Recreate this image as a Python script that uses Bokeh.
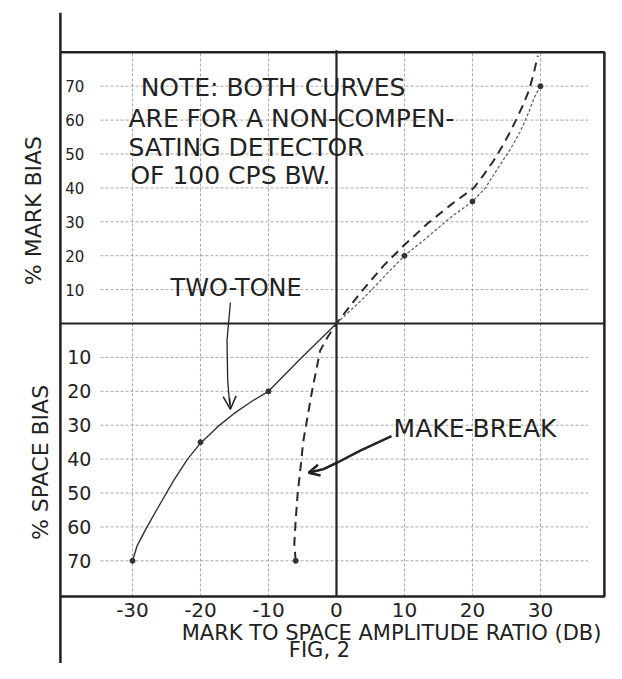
from math import pi
from bokeh.plotting import figure
from bokeh.models import Range1d, Arrow, OpenHead
from bokeh.core.properties import value
from bokeh.embed import file_html
from bokeh.resources import INLINE

# ---------------- data ----------------
x_ticks = [-30, -20, -10, 0, 10, 20, 30]
x_tick_labels = ["-30", "-20", "-10", "0", "10", "20", "30"]
bias_ticks = [10, 20, 30, 40, 50, 60, 70]

# TWO-TONE curve (dB, % bias: mark positive, space negative)
tt_x = [-30, -29.3, -28, -26.3, -24, -21.9, -20, -17.5, -15.1, -12.5, -10, -5.3, 0,
        4, 6.9, 10, 12.8, 16.8, 20, 21.9, 23.8, 25.6, 27, 28.2, 29.1, 30]
tt_y = [-70, -65.5, -60.5, -54.5, -46.5, -40, -35.3, -30.5, -26.6, -23, -20, -10.4, 0,
        7.5, 13.6, 20, 24.5, 31.3, 36, 40, 46, 51.5, 56.5, 62, 66.7, 70]
tt_mark_x = [-30, -20, -10, 10, 20, 30]
tt_mark_y = [-70, -35, -20, 20, 36, 70]

# MAKE-BREAK curve
mb_x = [-6, -6.2, -6, -5.7, -5.2, -4.9, -4.3, -3.6, -2.9, -2.4, -1.3, 0,
        3.5, 6.9, 9.9, 13.4, 16.8, 20.2, 21.7, 23.1, 24.3, 25.4, 26.4, 27.4, 28.3, 29, 29.6]
mb_y = [-70, -65, -58, -50, -41, -35, -28, -20, -13, -8, -4, 0,
        9, 17, 23, 29.5, 35, 40, 44, 48, 52, 56, 60, 64.3, 68.7, 73.7, 79]
mb_end_x = [-6]
mb_end_y = [-70]

note_lines = ["NOTE: BOTH CURVES", "ARE FOR A NON-COMPEN-",
              "SATING DETECTOR", "OF 100 CPS BW."]

# ---------------- layout constants ----------------
X0, X1 = -40.6, 39.4     # frame
Y0, Y1 = -80.5, 80.0
INK = "#222222"
GRID = "#8a8a8a"
FONT = value("DejaVu Sans")

p = figure(width=606, height=663,
           x_range=Range1d(-49.41, 39.71), y_range=Range1d(-100.29, 95.28),
           output_backend="svg", toolbar_location=None, min_border=0,
           x_axis_location=None, y_axis_location=None)
p.outline_line_color = None
p.xgrid.visible = False
p.ygrid.visible = False
p.background_fill_color = "white"

# grid (hand-ruled faint dashes)
gx = [[t, t] for t in x_ticks if t != 0]
gy = [[Y0, Y1] for t in x_ticks if t != 0]
p.multi_line(gx, gy, line_color=GRID, line_width=1, line_dash="3 2", line_alpha=0.75)
hx, hy = [], []
for b in bias_ticks:
    for s in (1, -1):
        hx.append([-34.7, 37.0])
        hy.append([s * b, s * b])
p.multi_line(hx, hy, line_color=GRID, line_width=1, line_dash="3 2", line_alpha=0.75)

# frame and zero axes
p.line([X0, X0], [91.7, -100.3], line_color=INK, line_width=2.5)
p.line([X0, X1, X1, X0], [Y1, Y1, Y0, Y0], line_color=INK, line_width=2.5)
p.line([X0, X1], [0, 0], line_color=INK, line_width=2.2)
p.line([0, 0], [Y1 + 0.6, Y0], line_color=INK, line_width=2.2)

# curves
p.line(tt_x[:13], tt_y[:13], line_color="#333333", line_width=1.4)
p.line(tt_x[12:], tt_y[12:], line_color="#666666", line_width=1.3, line_dash="3 2")
p.scatter(tt_mark_x, tt_mark_y, size=5, color="#333333")
p.line(mb_x, mb_y, line_color="#2a2a2a", line_width=2, line_dash="9 6")
p.scatter(mb_end_x, mb_end_y, size=5, color="#333333")

# y tick labels (inside frame)
p.text(x=[-39.9] * 7, y=bias_ticks, text=[str(b) for b in bias_ticks],
       text_font=FONT, text_font_size="15px", text_align="left",
       text_baseline="middle", text_color=INK)
p.text(x=[-39.6] * 7, y=[-b for b in bias_ticks], text=[str(b) for b in bias_ticks],
       text_font=FONT, text_font_size="19px", text_align="left",
       text_baseline="middle", text_color=INK)

# x tick labels
p.text(x=x_ticks, y=[-84.5] * 7, text=x_tick_labels,
       text_font=FONT, text_font_size="20px", text_align="center",
       text_baseline="middle", text_color=INK)

# axis titles
p.text(x=[8.1], y=[-91.3], text=["MARK TO SPACE AMPLITUDE RATIO (DB)"],
       text_font=FONT, text_font_size="21px", text_align="center",
       text_baseline="middle", text_color=INK)
p.text(x=[-2.5], y=[-96.2], text=["FIG, 2"],
       text_font=FONT, text_font_size="21px", text_align="center",
       text_baseline="middle", text_color=INK)
p.text(x=[-44.6], y=[33.3], text=["% MARK BIAS"], angle=pi / 2,
       text_font=FONT, text_font_size="22px", text_align="center",
       text_baseline="middle", text_color=INK)
p.text(x=[-43.6], y=[-41], text=["% SPACE BIAS"], angle=pi / 2,
       text_font=FONT, text_font_size="22px", text_align="center",
       text_baseline="middle", text_color=INK)

# note
p.text(x=[-28.8, -30.6, -30.6, -30.3], y=[69.6, 60.5, 51.9, 43.7], text=note_lines,
       text_font=FONT, text_font_size="25px", text_align="left",
       text_baseline="middle", text_color=INK)

# TWO-TONE label + arrow
p.text(x=[-24.4], y=[10.6], text=["TWO-TONE"], text_font=FONT,
       text_font_size="24px", text_align="left", text_baseline="middle", text_color=INK)
p.line([-15.6, -16.1, -16.0, -15.7], [6.2, -5.0, -16.8, -24.0],
       line_color=INK, line_width=1.3)
p.add_layout(Arrow(end=OpenHead(size=13, line_color=INK, line_width=1.5),
                   x_start=-15.7, y_start=-22.0, x_end=-15.6, y_end=-25.3,
                   line_color=INK, line_width=1.3))

# MAKE-BREAK label + arrow
p.text(x=[8.4], y=[-31.0], text=["MAKE-BREAK"], text_font=FONT,
       text_font_size="25px", text_align="left", text_baseline="middle", text_color=INK)
p.line([8.1, 3.5, 0.15, -2.0], [-33.2, -37.5, -41.0, -43.0],
       line_color=INK, line_width=2.5)
p.add_layout(Arrow(end=OpenHead(size=11, line_color=INK, line_width=2.5),
                   x_start=-2.0, y_start=-43.0, x_end=-4.1, y_end=-44.0,
                   line_color=INK, line_width=2.5))

open("out.html", "w").write(file_html(p, INLINE))
